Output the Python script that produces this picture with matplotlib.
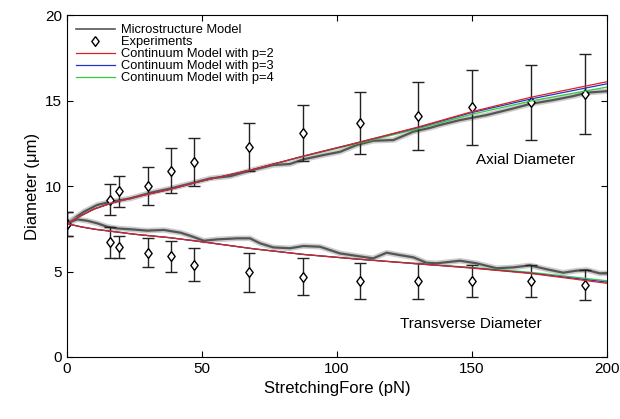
import matplotlib
matplotlib.use("Agg")
import matplotlib.pyplot as plt
from matplotlib.lines import Line2D

plt.rcParams["font.family"] = ["Liberation Sans", "DejaVu Sans"]

# experiments
exp_force = [0, 15.9, 19.3, 30.1, 38.4, 47.0, 67.6, 87.6, 108.5, 130.1, 150.1, 171.7, 191.9]
axial_exp = [7.8, 9.2, 9.7, 10.0, 10.9, 11.4, 12.3, 13.1, 13.7, 14.1, 14.6, 14.9, 15.4]
axial_err = [0.7, 0.9, 0.9, 1.1, 1.3, 1.4, 1.4, 1.65, 1.8, 2.0, 2.2, 2.2, 2.35]
trans_exp = [7.8, 6.7, 6.45, 6.1, 5.9, 5.4, 4.95, 4.7, 4.45, 4.45, 4.45, 4.45, 4.2]
trans_err = [0.7, 0.9, 0.65, 0.85, 0.9, 0.95, 1.15, 1.1, 1.07, 1.05, 0.95, 0.95, 0.88]

# microstructure model
micro_ax_f = [0, 6.3, 11.2, 16.2, 23.6, 31.0, 38.4, 45.8, 53.2, 60.6, 67.8, 76.4, 82.6,
              87.5, 94.9, 101.1, 107.3, 113.4, 120.9, 128.3, 134.4, 138.1, 145.6, 155.4,
              165.3, 171.5, 180.1, 187.5, 192.5, 200]
micro_ax_d = [7.82, 8.5, 8.89, 9.08, 9.28, 9.61, 9.86, 10.15, 10.45, 10.58, 10.9, 11.23, 11.29,
              11.56, 11.81, 12.0, 12.4, 12.65, 12.69, 13.18, 13.4, 13.57, 13.86, 14.15,
              14.54, 14.8, 15.03, 15.26, 15.46, 15.55]
micro_tr_f = [0, 3.8, 7.5, 11.2, 14.9, 18.6, 23.6, 29.7, 35.9, 42.1, 45.8, 50.7, 55.7, 63.1,
              67.8, 71.5, 76.4, 82.6, 87.5, 93.7, 101.1, 107.3, 113.4, 118.4, 123.3, 128.3,
              133.2, 136.9, 145.6, 151.7, 159.1, 165.3, 171.5, 177.7, 183.8, 188.8, 192.5,
              197.4, 200]
micro_tr_d = [7.82, 8.05, 7.97, 7.82, 7.62, 7.52, 7.47, 7.39, 7.43, 7.27, 7.08, 6.8, 6.88, 6.94,
              6.94, 6.65, 6.41, 6.36, 6.49, 6.45, 6.06, 5.91, 5.77, 6.1, 5.96, 5.83,
              5.51, 5.48, 5.63, 5.48, 5.19, 5.24, 5.36, 5.13, 4.93, 5.05, 5.09,
              4.89, 4.89]

# continuum models
cont_f = [0, 5, 10, 16, 25, 38, 50, 69, 87.5, 108, 130, 150, 172, 200]
ax_p2 = [7.8, 8.25, 8.65, 8.98, 9.35, 9.8, 10.3, 10.97, 11.75, 12.55, 13.45, 14.35, 15.2, 16.1]
ax_p3 = [7.8, 8.25, 8.65, 8.98, 9.35, 9.8, 10.3, 10.97, 11.75, 12.55, 13.42, 14.3, 15.1, 15.98]
ax_p4 = [7.8, 8.25, 8.65, 8.98, 9.35, 9.8, 10.3, 10.97, 11.73, 12.5, 13.35, 14.2, 14.98, 15.79]
tr_p2 = [7.8, 7.62, 7.48, 7.36, 7.18, 6.98, 6.74, 6.33, 6.0, 5.72, 5.45, 5.2, 4.88, 4.31]
tr_p3 = [7.8, 7.62, 7.48, 7.36, 7.18, 6.98, 6.74, 6.33, 6.0, 5.72, 5.45, 5.21, 4.9, 4.38]
tr_p4 = [7.8, 7.62, 7.48, 7.36, 7.18, 6.98, 6.74, 6.33, 6.0, 5.72, 5.46, 5.24, 4.95, 4.46]

RED, BLUE, GREEN = "#e02020", "#2233cc", "#33cc33"
DIAMOND = [(0, 1), (0.75, 0), (0, -1), (-0.75, 0), (0, 1)]


def plot():
    fig = plt.figure(figsize=(6.2, 4.19), dpi=100)
    ax = fig.add_axes([0.108, 0.148, 0.871, 0.816])

    # microstructure: soft grey halo plus darker core
    for f, d in [(micro_ax_f, micro_ax_d), (micro_tr_f, micro_tr_d)]:
        ax.plot(f, d, color="#b8b8b8", lw=4.0, alpha=0.7, solid_capstyle="round")
        ax.plot(f, d, color="#555555", lw=1.6)

    for d, e in [(axial_exp, axial_err), (trans_exp, trans_err)]:
        ax.errorbar(exp_force, d, yerr=e, fmt="none", ecolor="#222222",
                    elinewidth=1.0, capsize=4.2, capthick=1.0)
        ax.plot(exp_force, d, ls="none", marker=DIAMOND, ms=7, mfc="white",
                mec="black", mew=1.0)

    for tr, axl, c in [(tr_p4, ax_p4, GREEN), (tr_p3, ax_p3, BLUE), (tr_p2, ax_p2, RED)]:
        ax.plot(cont_f, axl, color=c, lw=0.9)
        ax.plot(cont_f, tr, color=c, lw=0.9)

    ax.text(170, 11.5, "Axial Diameter", fontsize=11, ha="center", va="center")
    ax.text(149.5, 1.95, "Transverse Diameter", fontsize=11, ha="center", va="center")

    ax.set_xlim(0, 200)
    ax.set_ylim(0, 20)
    ax.set_xticks(range(0, 201, 50))
    ax.set_yticks(range(0, 21, 5))
    ax.tick_params(direction="in", top=True, right=True, labelsize=11, length=4)
    ax.set_xlabel("StretchingFore (pN)", fontsize=12)
    ax.set_ylabel("Diameter (μm)", fontsize=12)

    handles = [
        Line2D([], [], color="#555555", lw=1.2),
        Line2D([], [], ls="none", marker=DIAMOND, ms=7, mfc="white", mec="black", mew=1.0),
        Line2D([], [], color=RED, lw=0.9),
        Line2D([], [], color=BLUE, lw=0.9),
        Line2D([], [], color=GREEN, lw=0.9),
    ]
    labels = ["Microstructure Model", "Experiments", "Continuum Model with p=2",
              "Continuum Model with p=3", "Continuum Model with p=4"]
    ax.legend(handles, labels, loc="upper left", frameon=False, fontsize=9.3,
              labelspacing=0.0, handlelength=3.0, handletextpad=0.5,
              borderaxespad=0.3, bbox_to_anchor=(0.0, 1.0))
    return fig


def main():
    fig = plot()
    fig.savefig("out.png", dpi=100)


if __name__ == "__main__":
    main()
